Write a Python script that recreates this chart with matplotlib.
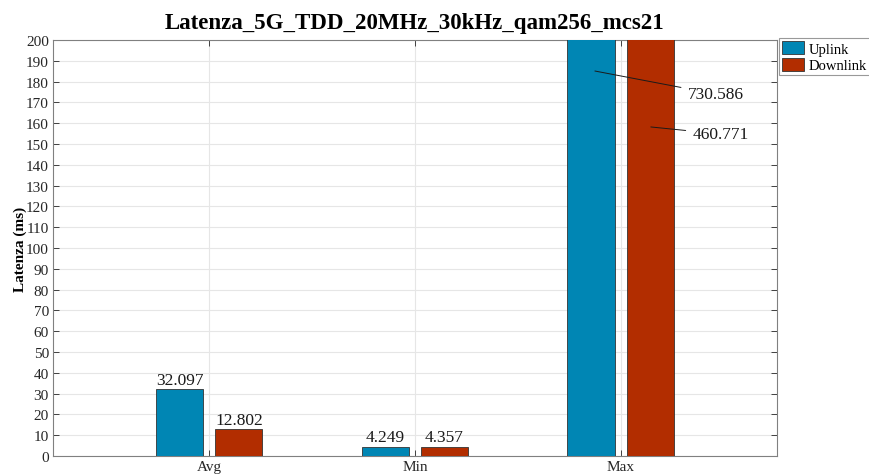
import matplotlib
matplotlib.use("Agg")
import matplotlib.pyplot as plt
import numpy as np

plt.rcParams['font.family'] = ['Liberation Serif', 'DejaVu Serif']

categories = ["Avg", "Min", "Max"]
uplink = [32.097, 4.249, 730.586]
downlink = [12.802, 4.357, 460.771]
series_names = ["Uplink", "Downlink"]
yticks = list(range(0, 201, 10))

c_up = "#0086b4"
c_dn = "#b22d00"

fig = plt.figure(figsize=(8.69, 4.77), dpi=100)
ax = fig.add_axes([0.061, 0.042, 0.833, 0.872])

x = np.arange(1, len(categories) + 1)
w = 0.229
off = 0.144
b1 = ax.bar(x - off, uplink, w, color=c_up, edgecolor="#333333", linewidth=0.6, label=series_names[0], zorder=3)
b2 = ax.bar(x + off, downlink, w, color=c_dn, edgecolor="#333333", linewidth=0.6, label=series_names[1], zorder=3)

ax.set_xlim(0.24, 3.76)
ax.set_ylim(0, 200)
ax.set_yticks(yticks)
ax.set_xticks(x)
ax.set_xticklabels(categories)
ax.tick_params(axis="both", direction="in", labelsize=11, colors="#262626", length=4,
               top=True, right=True, width=0.6)
ax.tick_params(axis="x", pad=3)
ax.tick_params(axis="y", pad=3)
ax.grid(True, color="#e6e6e6", linewidth=0.8, zorder=0)
ax.set_axisbelow(True)
for s in ax.spines.values():
    s.set_color("#808080")
    s.set_linewidth(0.8)

ax.set_ylabel("Latenza (ms)", fontsize=11, fontweight="bold", labelpad=-1)
ax.set_title("Latenza_5G_TDD_20MHz_30kHz_qam256_mcs21", fontsize=16.5, fontweight="bold", pad=9)

# value labels; bars above the axis limit get a leader line to the text
ymax = ax.get_ylim()[1]
for xi, (u, d) in zip(x, zip(uplink, downlink)):
    for xc, v in ((xi - off, u), (xi + off, d)):
        if v <= ymax:
            ax.text(xc, v + 0.8, f"{v:.3f}", ha="center", va="bottom", fontsize=12.5, color="#1a1a1a", zorder=4)

# leader lines for the bars that run past the top of the axis
leaders = [(uplink[2], (2.875, 185.1), (3.327, 174.0)),
           (downlink[2], (3.147, 158.2), (3.35, 154.8))]
for v, start, txt in leaders:
    ax.annotate(f"{v:.3f}", xy=start, xytext=txt, textcoords="data",
                fontsize=12.5, color="#1a1a1a", ha="left", va="center", zorder=5,
                arrowprops=dict(arrowstyle="-", color="#1a1a1a", lw=0.7, shrinkA=3, shrinkB=0))

leg = fig.legend(handles=[b1, b2], loc="upper left", bbox_to_anchor=(0.897, 0.918),
                 fontsize=10.5, frameon=True, fancybox=False, edgecolor="#808080",
                 handlelength=1.5, handleheight=1.0, handletextpad=0.3,
                 borderpad=0.2, labelspacing=0.15, borderaxespad=0)
leg.get_frame().set_linewidth(0.8)

fig.savefig("out.png", dpi=100, facecolor="white")
